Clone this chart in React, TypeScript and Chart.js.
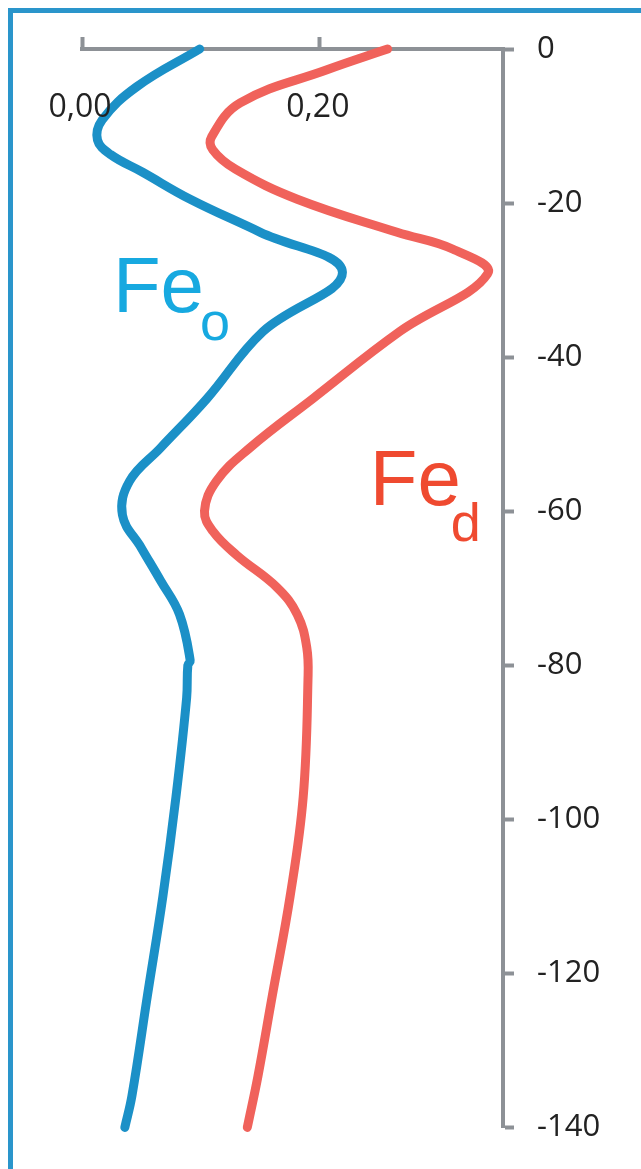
import React, { useEffect, useRef } from "react";
import { Chart, registerables } from "chart.js";

Chart.register(...registerables);

// Fe_o (blue) profile: depth (cm) and value
const FEO_DEPTH = [0, -4.9, -9.2, -11.8, -13.7, -16.0, -19.5, -23.8, -29.0, -36.7, -45.4, -51.8, -56.1, -60.5, -64.8, -69.0, -73.4, -79.4, -80.0, -84.2, -97.1, -110, -122.9, -135.9, -140];
const FEO_VALUE = [0.099, 0.046, 0.017, 0.013, 0.024, 0.051, 0.091, 0.150, 0.219, 0.152, 0.105, 0.066, 0.040, 0.034, 0.050, 0.066, 0.082, 0.091, 0.089, 0.088, 0.079, 0.068, 0.055, 0.042, 0.036];

// Fe_d (red) profile
const FED_DEPTH = [0, -2.7, -7.0, -11.4, -13.1, -15.6, -19.5, -23.8, -26.0, -29.2, -36.7, -45.4, -51.8, -56.1, -60.0, -62.6, -65.7, -69.9, -73.4, -77.7, -82.0, -97.1, -110, -122.9, -133.3, -140];
const FED_VALUE = [0.257, 0.206, 0.133, 0.109, 0.110, 0.129, 0.181, 0.265, 0.312, 0.341, 0.267, 0.194, 0.141, 0.113, 0.103, 0.110, 0.130, 0.164, 0.181, 0.189, 0.190, 0.186, 0.175, 0.160, 0.148, 0.139];

const X_TICKS = [0, 0.2];
const X_TICK_LABELS = ["0,00", "0,20"];
const Y_TICKS = [0, -20, -40, -60, -80, -100, -120, -140];

const X_MIN = 0;
const X_MAX = 0.354;
const Y_MIN = -140;
const Y_MAX = 0;

const AXIS_COLOR = "#8d9196";
const BLUE_LINE = "#1b90c7";
const RED_LINE = "#f0625b";
const BLUE_TEXT = "#17a9e0";
const RED_TEXT = "#ef4a30";

const annotPlugin = {
  id: "annot",
  afterDraw(chart: any) {
    const ctx = chart.ctx;
    const xs = chart.scales.x;
    const ys = chart.scales.y;
    ctx.save();
    // x tick labels below the top axis
    ctx.fillStyle = "#222";
    ctx.font = "32px 'Open Sans'";
    ctx.textAlign = "center";
    ctx.textBaseline = "middle";
    X_TICKS.forEach((v, i) => {
      ctx.fillText(X_TICK_LABELS[i], xs.getPixelForValue(v) - 2, 108);
    });
    // series labels
    const drawLabel = (main: string, sub: string, vx: number, vy: number, color: string, subDy: number, subDx: number) => {
      const px = xs.getPixelForValue(vx);
      const py = ys.getPixelForValue(vy);
      ctx.fillStyle = color;
      ctx.textAlign = "left";
      ctx.textBaseline = "alphabetic";
      ctx.font = "78px 'Liberation Sans'";
      ctx.fillText(main, px, py);
      const w = ctx.measureText(main).width;
      ctx.font = "54px 'Liberation Sans'";
      ctx.fillText(sub, px + w + subDx, py + subDy);
    };
    drawLabel("Fe", "o", 0.026, -34.2, BLUE_TEXT, 28, -4);
    drawLabel("Fe", "d", 0.242, -59.2, RED_TEXT, 36, -10);
    ctx.restore();
  },
};

export default function App() {
  const ref = useRef<HTMLCanvasElement>(null);
  useEffect(() => {
    if (!ref.current) return;
    const feo = FEO_DEPTH.map((d, i) => ({ x: FEO_VALUE[i], y: d }));
    const fed = FED_DEPTH.map((d, i) => ({ x: FED_VALUE[i], y: d }));
    const lineStyle = {
      borderWidth: 9,
      pointRadius: 0,
      tension: 0.4,
      borderCapStyle: "round",
      borderJoinStyle: "round",
      fill: false,
      clip: false,
    };
    const chart = new Chart(ref.current, {
      type: "line",
      data: {
        datasets: [
          { label: "Feo", data: feo, borderColor: BLUE_LINE, ...lineStyle } as any,
          { label: "Fed", data: fed, borderColor: RED_LINE, ...lineStyle } as any,
        ],
      },
      options: {
        responsive: false,
        animation: false,
        layout: { padding: { left: 82, right: 0, top: 37, bottom: 37 } },
        plugins: { legend: { display: false }, tooltip: { enabled: false } },
        scales: {
          x: {
            type: "linear",
            position: "top",
            min: X_MIN,
            max: X_MAX,
            afterBuildTicks: (s: any) => {
              s.ticks = X_TICKS.map((v) => ({ value: v }));
            },
            afterFit: (s: any) => {
              s.height = 12;
            },
            ticks: { display: false },
            grid: {
              display: true,
              drawOnChartArea: false,
              drawTicks: true,
              tickLength: 12,
              tickWidth: 4,
              tickColor: AXIS_COLOR,
            },
            border: { display: true, color: AXIS_COLOR, width: 4 },
          },
          y: {
            type: "linear",
            position: "right",
            min: Y_MIN,
            max: Y_MAX,
            afterBuildTicks: (s: any) => {
              s.ticks = Y_TICKS.map((v) => ({ value: v }));
            },
            afterFit: (s: any) => {
              s.width = 138;
            },
            ticks: {
              display: true,
              padding: 23,
              color: "#222",
              font: { family: "'Open Sans'", size: 31 },
            },
            grid: {
              display: true,
              drawOnChartArea: false,
              drawTicks: true,
              tickLength: 11,
              tickWidth: 4,
              tickColor: AXIS_COLOR,
            },
            border: { display: true, color: AXIS_COLOR, width: 4 },
          },
        },
      },
      plugins: [annotPlugin],
    });
    return () => chart.destroy();
  }, []);

  return (
    <div
      style={{
        position: "absolute",
        left: 0,
        top: 0,
        width: 641,
        height: 1169,
        overflow: "hidden",
        background: "#fff",
      }}
    >
      <div
        style={{
          position: "absolute",
          left: 8,
          top: 8,
          width: 700,
          height: 1300,
          borderTop: "5px solid #2a95cb",
          borderLeft: "5px solid #2a95cb",
          boxSizing: "border-box",
        }}
      />
      <canvas
        ref={ref}
        width={641}
        height={1169}
        style={{ position: "absolute", left: 0, top: 0, display: "block" }}
      />
    </div>
  );
}
